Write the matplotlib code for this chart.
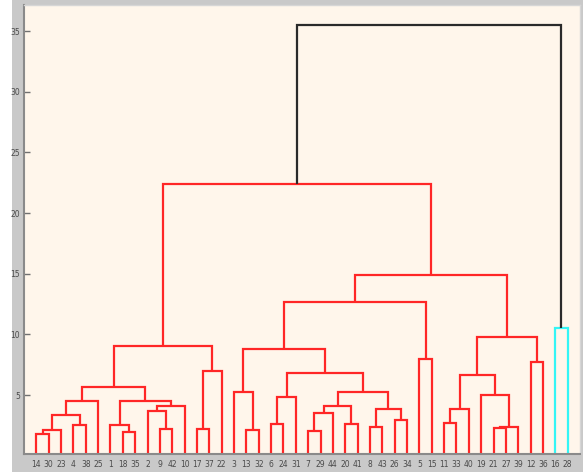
import matplotlib
matplotlib.use("Agg")
import matplotlib.pyplot as plt
from matplotlib.patches import Rectangle

# Leaf order along the x axis
leaf_order = [14, 30, 23, 4, 38, 25, 1, 18, 35, 2, 9, 42, 10, 17, 37, 22,
              3, 13, 32, 6, 24, 31, 7, 29, 44, 20, 41, 8, 43, 26, 34, 5, 15,
              11, 33, 40, 19, 21, 27, 39, 12, 36, 16, 28]

# Merge table: node name, left child, right child, merge distance
node = ["a1", "a2", "a3", "a4", "a5", "b1", "b2", "b3", "b4", "b5", "b6",
        "c1", "d1", "d2", "c2",
        "e1", "e2", "f1", "f2", "g1", "g2", "g3", "g4", "h1", "h2", "h3",
        "g5", "f3", "e3", "i1", "e4",
        "j1", "j2", "k1", "k2", "k3", "j3", "l1", "j4", "m1", "top", "n1",
        "root"]
left = [14, "a1", 4, "a2", "a4", 18, 1, 9, 2, "b4", "b2",
        "a5", 17, "d1", "c1",
        13, 3, 6, "f1", 7, "g1", 20, "g2", 8, 26, "h1",
        "g4", "f2", "e2", 5, "e3",
        11, "j1", 21, "k1", 19, "j2", 12, "j3", "e4", "c2", 16,
        "top"]
right = [30, 23, 38, "a3", 25, 35, "b1", 42, "b3", 10, "b5",
         "b6", 37, 22, "d2",
         32, "e1", 24, 31, 29, 44, 41, "g3", 43, 34, "h2",
         "h3", "g5", "f3", 15, "i1",
         33, 40, 27, 39, "k2", "k3", 36, "l1", "j4", "m1", 28,
         "n1"]
height = [1.79, 2.09, 2.50, 3.33, 4.48, 1.93, 2.50, 2.17, 3.68, 4.12, 4.53,
          5.64, 2.17, 6.98, 9.07,
          2.08, 5.22, 2.61, 4.84, 2.06, 3.49, 2.58, 4.12, 2.36, 2.92, 3.82,
          5.25, 6.79, 8.79, 7.97, 12.67,
          2.67, 3.82, 2.26, 2.39, 5.00, 6.65, 7.70, 9.81, 14.89, 22.40, 10.50,
          35.50]

yticks = [5, 10, 15, 20, 25, 30, 35]
cluster_colors = ["#ff2626", "#33f5f5"]
above_color = "#2a2a2a"

W, H = 583, 472
fig = plt.figure(figsize=(W / 100, H / 100), dpi=100, facecolor="#c9c9c9")
fig.patches.append(Rectangle((0, 0), 12 / W, 1, transform=fig.transFigure,
                             facecolor="white", edgecolor="none", zorder=-1))
ax = fig.add_axes([24 / W, (H - 454) / H, (580 - 24) / W, (454 - 5) / H])
ax.set_facecolor("#fff6eb")

# x position and height of every node
xpos = {leaf: i + 1 for i, leaf in enumerate(leaf_order)}
ypos = {leaf: 0.0 for leaf in leaf_order}
children = {}
for nm, l, r, h in zip(node, left, right, height):
    xpos[nm] = (xpos[l] + xpos[r]) / 2
    ypos[nm] = h
    children[nm] = (l, r)

# colour subtrees below the threshold, like a default colour cut
threshold = 0.7 * max(height)
color_of = {}
palette_idx = [0]


def assign(nm, col):
    if nm not in children:
        return
    if col is None and ypos[nm] < threshold:
        col = cluster_colors[palette_idx[0] % len(cluster_colors)]
        palette_idx[0] += 1
    color_of[nm] = col if col is not None else above_color
    for c in children[nm]:
        assign(c, col)


assign(node[-1], None)

for nm in node:
    l, r = children[nm]
    h = ypos[nm]
    ax.plot([xpos[l], xpos[l], xpos[r], xpos[r]], [ypos[l], h, h, ypos[r]],
            color=color_of[nm], lw=1.6, solid_joinstyle="miter",
            solid_capstyle="butt", clip_on=True)

ax.set_xlim(0, 45)
ax.set_ylim(0.14, 37.15)
ax.set_xticks(range(1, len(leaf_order) + 1))
ax.set_xticklabels([str(v) for v in leaf_order])
ax.set_yticks(yticks)
ax.tick_params(axis="both", direction="in", labelsize=5.5,
               labelcolor="#4a4a4a", color="#707070")
ax.tick_params(axis="x", length=0, pad=4)
ax.tick_params(axis="y", length=4, width=1, pad=3)

for side in ("left", "bottom"):
    ax.spines[side].set_color("#8a8a8a")
    ax.spines[side].set_linewidth(1.5)
for side in ("top", "right"):
    ax.spines[side].set_color("#d6d6d6")
    ax.spines[side].set_linewidth(1.0)

fig.savefig("out.png", dpi=100, facecolor=fig.get_facecolor())
